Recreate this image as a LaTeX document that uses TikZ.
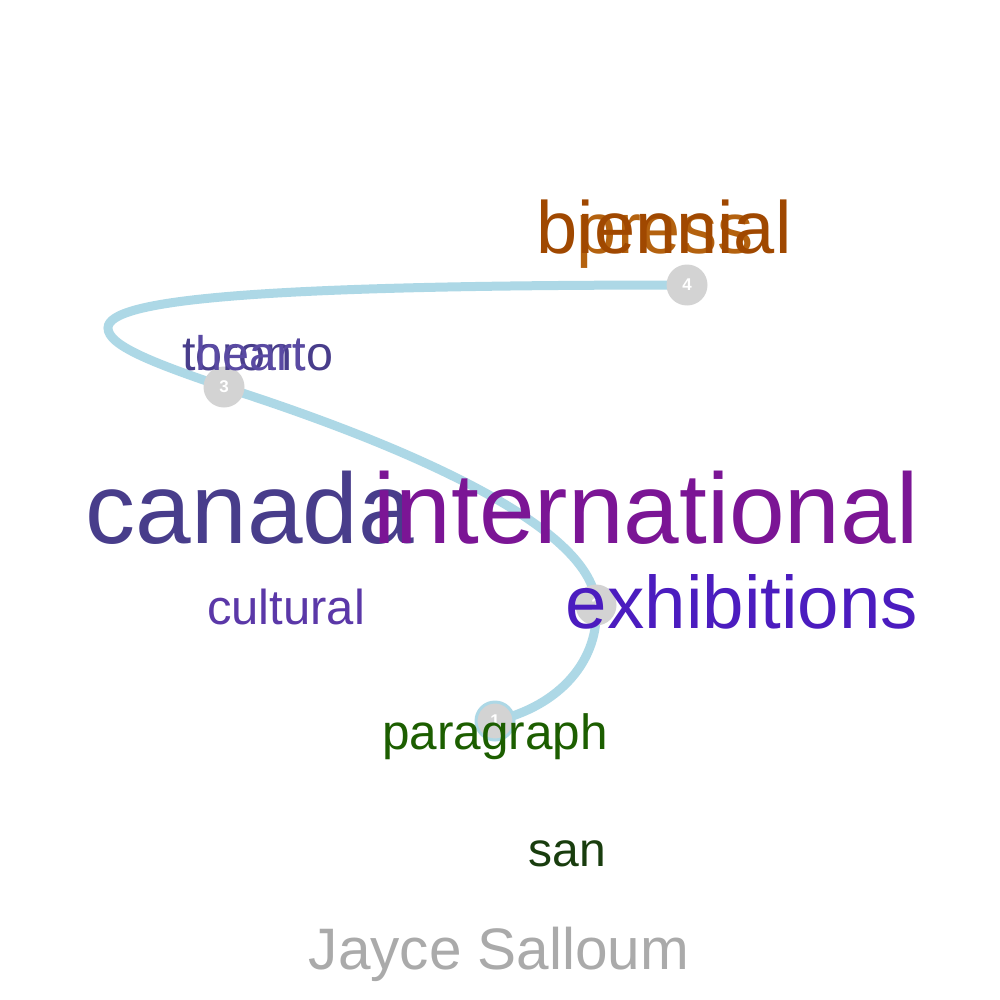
\documentclass[tikz,border=0pt]{standalone}
\usepackage{fontspec}
\setmainfont{Liberation Sans}
\definecolor{pathblue}{HTML}{ADD8E6}
\definecolor{dotgray}{HTML}{D3D3D3}
\definecolor{cslate}{HTML}{483D8B}
\definecolor{cslatel}{HTML}{5A4AA3}
\definecolor{cintl}{HTML}{7B1595}
\definecolor{cexhib}{HTML}{4B1CBF}
\definecolor{ccult}{HTML}{5B38A8}
\definecolor{cpara}{HTML}{1C5E00}
\definecolor{csan}{HTML}{193D0E}
\definecolor{cbien}{HTML}{A04800}
\definecolor{cpress}{HTML}{B4620F}
\definecolor{cname}{HTML}{AAAAAA}
\begin{document}
\begin{tikzpicture}[x=1pt,y=-1pt,
  word/.style={anchor=base,inner sep=0pt,outer sep=0pt},
  dot/.style={circle,fill=dotgray,minimum size=41pt,inner sep=0pt,
    text=white,font=\fontsize{17}{17}\selectfont\bfseries}]
\useasboundingbox (0,0) rectangle (1000,1000);
\fill[white] (0,0) rectangle (1000,1000);
% stations
\coordinate (p1) at (495,721);
\coordinate (p2) at (596,605);
\coordinate (p3) at (224,387);
\coordinate (p4) at (687,285);
\coordinate (loop) at (108,328);
% path
\draw[pathblue,line width=9pt,line cap=round]
  (p1) .. controls (560,706) and (600,660) .. (p2)
       .. controls (594,530) and (420,450) .. (p3)
       .. controls (150,362) and (108,345) .. (loop)
       .. controls (108,300) and (250,285) .. (p4);
% circles
\node[dot,draw=pathblue,line width=3pt,minimum size=38pt] (c1) at (p1) {1};
\node[dot] (c2) at (p2) {2};
\node[dot] (c3) at (p3) {3};
\node[dot] (c4) at (p4) {4};
% words
\node[word,text=cslate,font=\fontsize{100}{100}\selectfont] (canada) at (250,543) {canada};
\node[word,text=cintl,font=\fontsize{100}{100}\selectfont] (intl) at (646,543) {international};
\node[word,text=cexhib,font=\fontsize{74.5}{74.5}\selectfont] (exhib) at (742,628) {exhibitions};
\node[word,text=ccult,font=\fontsize{49}{49}\selectfont] (cult) at (286,624) {cultural};
\node[word,text=cpara,font=\fontsize{49.5}{49.5}\selectfont] (para) at (495,749) {paragraph};
\node[word,text=csan,font=\fontsize{48}{48}\selectfont] (san) at (567,866) {san};
\node[word,text=cname,font=\fontsize{58.5}{58.5}\selectfont] (name) at (499,969) {Jayce Salloum};
\node[word,text=cslate,font=\fontsize{48.5}{48.5}\selectfont] (toronto) at (257.5,370) {toronto};
\node[word,text=cslatel,font=\fontsize{48.5}{48.5}\selectfont] (heart) at (250.5,370) {heart};
\node[word,text=cpress,font=\fontsize{72}{72}\selectfont] (press) at (665,253) {press};
\node[word,text=cbien,font=\fontsize{74}{74}\selectfont] (bien) at (664,253) {biennial};
\end{tikzpicture}
\end{document}
